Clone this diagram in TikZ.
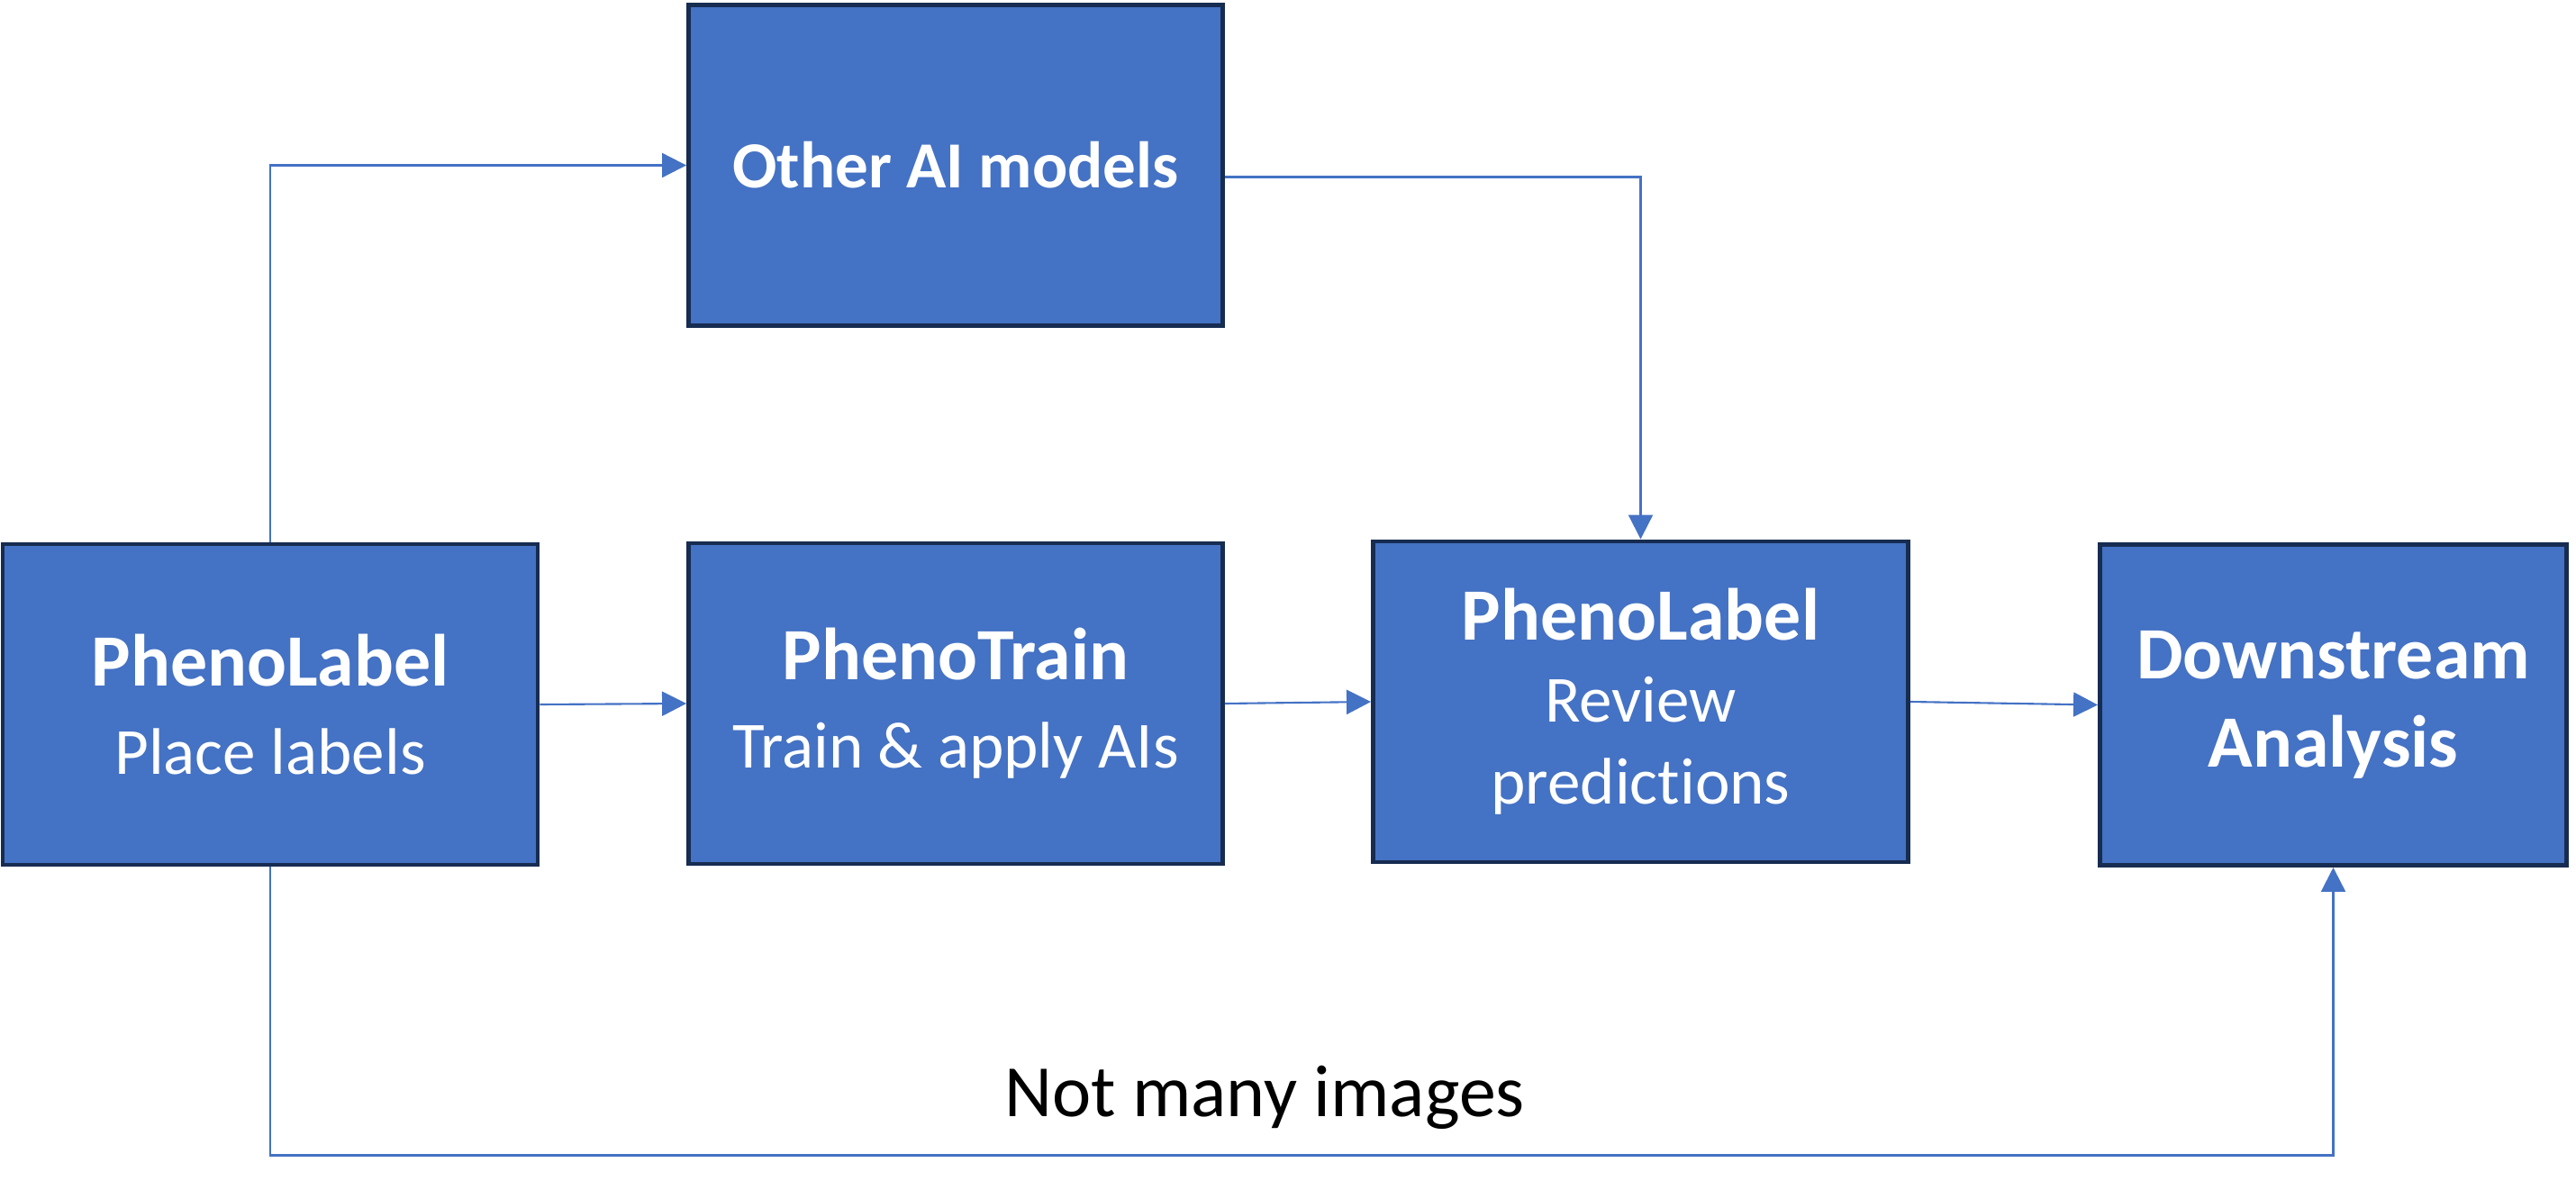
\documentclass[tikz,border=0pt]{standalone}
\usepackage{fontspec}
\setmainfont{Carlito}[Ligatures=NoCommon]
\usetikzlibrary{arrows.meta}
\definecolor{boxblue}{HTML}{4472C4}
\definecolor{boxedge}{HTML}{172C51}
\newcommand{\headline}[1]{{\fontsize{23.3}{25.9}\selectfont\bfseries #1}}

\begin{document}
\begin{tikzpicture}[
    box/.style={draw=boxedge, fill=boxblue, line width=1.4pt, text=white,
        minimum height=3.56cm, inner sep=0pt, align=center,
        font=\fontsize{20.8}{25.9}\selectfont},
    link/.style={draw=boxblue, line width=0.6pt,
        -{Triangle[length=0.27cm,width=0.27cm]}}
]
    \useasboundingbox (0,0) rectangle (28.6,-13.11);

    % Cajas
    \node[box, minimum width=5.94cm] (lab) at (3.0,-7.82) {\headline{PhenoLabel}\\[2pt]Place labels};
    \node[box, minimum width=5.93cm] (train) at (10.61,-7.81) {\headline{PhenoTrain}\\[2pt]Train \& apply AIs};
    \node[box, minimum width=5.93cm] (other) at (10.61,-1.835) {\textbf{Other AI models}};
    \node[box, minimum width=5.94cm] (review) at (18.215,-7.79) {\headline{PhenoLabel}\\Review\\predictions};
    \node[box, minimum width=5.18cm] (dsa) at (25.905,-7.825) {\headline{Downstream}\\[2.2pt]\headline{Analysis}};

    % Flechas
    \draw[link] (lab.east) -- (train.west);
    \draw[link] (train.east) -- (review.west);
    \draw[link] (review.east) -- (dsa.west);
    \draw[link] (lab.north) |- (other.west);
    \draw[link] ([yshift=-0.13cm]other.east) -| (review.north);
    \draw[link] (lab.south) -- ++(0,-3.2) -| (dsa.south);

    \node[anchor=base, font=\fontsize{23.3}{25.9}\selectfont] (few) at (14.04,-12.39) {Not many images};
\end{tikzpicture}
\end{document}
